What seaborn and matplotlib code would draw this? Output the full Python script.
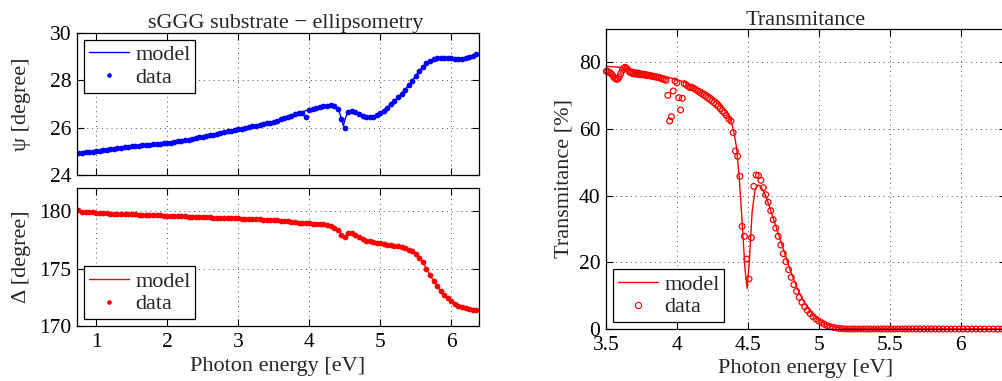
import numpy as np
import pandas as pd
import matplotlib
matplotlib.use("Agg")
import matplotlib.pyplot as plt
import seaborn as sns
from matplotlib.lines import Line2D

# ---------------------------------------------------------------- data
# Ellipsometry, measured on a 0.05 eV grid
ell_energy = np.round(np.arange(0.75, 6.351, 0.05), 2)
psi_data = [
    24.93, 24.95, 24.96, 24.97, 24.99, 25.00, 25.02, 25.04, 25.06, 25.08,
    25.10, 25.12, 25.15, 25.17, 25.19, 25.21, 25.22, 25.24, 25.25, 25.27,
    25.28, 25.30, 25.31, 25.32, 25.34, 25.35, 25.37, 25.40, 25.42, 25.44,
    25.47, 25.50, 25.53, 25.56, 25.59, 25.62, 25.65, 25.68, 25.71, 25.74,
    25.77, 25.80, 25.84, 25.87, 25.90, 25.93, 25.96, 25.99, 26.02, 26.05,
    26.08, 26.11, 26.14, 26.18, 26.21, 26.25, 26.30, 26.35, 26.40, 26.46,
    26.51, 26.56, 26.60, 26.64, 26.45, 26.76, 26.80, 26.84, 26.88, 26.90,
    26.92, 26.94, 26.92, 26.80, 26.38, 26.00, 26.66, 26.72, 26.66, 26.58,
    26.51, 26.45, 26.43, 26.46, 26.53, 26.62, 26.72, 26.85, 26.98, 27.13,
    27.28, 27.44, 27.61, 27.79, 27.99, 28.20, 28.40, 28.58, 28.73, 28.83,
    28.90, 28.94, 28.95, 28.95, 28.94, 28.93, 28.91, 28.90, 28.92, 28.95,
    28.99, 29.04, 29.10,
]
delta_data = [
    180.05, 179.95, 179.92, 179.90, 179.88, 179.86, 179.84, 179.82, 179.80, 179.77,
    179.78, 179.76, 179.75, 179.74, 179.72, 179.71, 179.70, 179.69, 179.67, 179.66,
    179.65, 179.64, 179.62, 179.61, 179.60, 179.59, 179.58, 179.57, 179.55, 179.54,
    179.53, 179.52, 179.50, 179.49, 179.48, 179.47, 179.46, 179.45, 179.43, 179.42,
    179.41, 179.40, 179.38, 179.37, 179.36, 179.35, 179.34, 179.33, 179.31, 179.30,
    179.28, 179.27, 179.25, 179.23, 179.22, 179.20, 179.18, 179.15, 179.12, 179.09,
    179.06, 179.03, 179.00, 178.97, 178.95, 178.93, 178.91, 178.89, 178.87, 178.84,
    178.78, 178.69, 178.55, 178.34, 177.95, 177.75, 178.05, 178.05, 177.91, 177.72,
    177.53, 177.43, 177.35, 177.28, 177.23, 177.18, 177.13, 177.08, 177.04, 176.98,
    176.92, 176.85, 176.78, 176.65, 176.48, 176.25, 175.95, 175.55, 175.00, 174.42,
    173.93, 173.46, 173.08, 172.70, 172.42, 172.18, 171.95, 171.78, 171.65, 171.55,
    171.47, 171.40, 171.35,
]

# Ellipsometry model
psi_model_energy = [0.75, 1.0, 1.5, 2.0, 2.5, 3.0, 3.5, 3.75, 4.0, 4.15, 4.3,
                    4.37, 4.42, 4.45, 4.48, 4.51, 4.55, 4.58, 4.68, 4.82, 4.91,
                    5.0, 5.14, 5.28, 5.40, 5.52, 5.61, 5.70, 5.80, 5.94, 6.08,
                    6.22, 6.38]
psi_model = [24.94, 25.00, 25.21, 25.35, 25.62, 25.93, 26.25, 26.51, 26.77,
             26.88, 26.94, 26.90, 26.69, 26.42, 26.07, 26.42, 26.69, 26.73,
             26.62, 26.44, 26.48, 26.62, 26.97, 27.38, 27.79, 28.28, 28.62,
             28.83, 28.94, 28.94, 28.90, 28.96, 29.12]
delta_model_energy = [0.75, 1.0, 2.0, 3.0, 3.5, 4.0, 4.16, 4.30, 4.40, 4.44,
                      4.48, 4.53, 4.57, 4.65, 4.75, 4.86, 5.0, 5.14, 5.33,
                      5.42, 5.52, 5.61, 5.70, 5.80, 5.89, 5.99, 6.08, 6.22,
                      6.38]
delta_model = [179.92, 179.85, 179.59, 179.36, 179.20, 178.93, 178.87, 178.69,
               178.34, 178.05, 177.75, 177.97, 178.10, 177.91, 177.53, 177.33,
               177.18, 177.04, 176.80, 176.60, 176.16, 175.44, 174.42, 173.46,
               172.74, 172.24, 171.80, 171.52, 171.36]

# Transmittance, measured every 1 nm from 354 nm down to 197 nm
wavelength_nm = np.arange(354, 196, -1)
trans_energy = 1239.84 / wavelength_nm
trans_data = [
    77.3, 77.3, 77.0, 76.8, 76.3, 75.7, 75.2, 74.9, 75.0, 75.6,
    76.6, 77.6, 78.3, 78.5, 78.2, 77.6, 77.0, 76.8, 76.6, 76.5,
    76.5, 76.4, 76.4, 76.3, 76.3, 76.2, 76.1, 76.0, 76.0, 75.9,
    75.8, 75.7, 75.6, 75.5, 75.4, 75.2, 75.0, 74.8, 74.6, 70.1,
    62.4, 63.7, 71.4, 74.4, 73.9, 69.4, 65.7, 69.2, 73.6, 73.3,
    72.8, 72.4, 72.5, 72.2, 71.8, 71.4, 71.0, 70.6, 70.2, 69.8,
    69.3, 68.9, 68.4, 67.9, 67.4, 66.8, 66.1, 65.4, 64.8, 64.0,
    63.0, 62.4, 58.9, 53.4, 51.8, 45.8, 30.8, 27.8, 21.0, 15.0,
    27.4, 42.8, 46.2, 46.0, 44.6, 42.4, 40.3, 38.0, 35.5, 32.8,
    30.3, 27.8, 25.2, 22.6, 20.2, 17.8, 15.5, 13.3, 11.3, 9.5,
    8.0, 6.7, 5.6, 4.6, 3.7, 3.0, 2.4, 1.9, 1.4, 1.0,
    0.7, 0.5, 0.3, 0.2, 0.1, 0.0, 0.0, 0.0, 0.0, 0.0,
    0.0, 0.0, 0.0, 0.0, 0.0, 0.0, 0.0, 0.0, 0.0, 0.0,
    0.0, 0.0, 0.0, 0.0, 0.0, 0.0, 0.0, 0.0, 0.0, 0.0,
    0.0, 0.0, 0.0, 0.0, 0.0, 0.0, 0.0, 0.0, 0.0, 0.0,
    0.0, 0.0, 0.0, 0.0, 0.0, 0.0, 0.0, 0.0,
]
trans_model_energy = [3.50, 3.60, 3.70, 3.80, 3.90, 4.00, 4.10, 4.20, 4.25,
                      4.30, 4.35, 4.38, 4.40, 4.42, 4.44, 4.46, 4.48, 4.495,
                      4.51, 4.53, 4.55, 4.57, 4.59, 4.62, 4.65, 4.70, 4.75,
                      4.80, 4.85, 4.90, 4.95, 5.00, 5.05, 5.10, 5.15, 5.20,
                      5.30, 6.30]
trans_model = [78.8, 78.5, 77.8, 77.0, 76.0, 74.8, 73.3, 71.2, 69.8, 68.0,
               65.3, 62.5, 59.5, 54.5, 45.0, 32.0, 18.0, 12.2, 20.0, 35.0,
               41.5, 43.2, 42.8, 40.5, 37.0, 30.5, 24.0, 17.5, 12.0, 7.8,
               4.8, 2.8, 1.5, 0.7, 0.3, 0.1, 0.0, 0.0]

psi_ticks = [24, 26, 28, 30]
delta_ticks = [170, 175, 180]
ell_xticks = [1, 2, 3, 4, 5, 6]
trans_yticks = [0, 20, 40, 60, 80]
trans_xticks = [3.5, 4, 4.5, 5, 5.5, 6]
trans_xticklabels = ["3.5", "4", "4.5", "5", "5.5", "6"]

# ---------------------------------------------------------------- style
sns.set_theme(style="ticks")
plt.rcParams["font.family"] = ["Liberation Serif", "DejaVu Serif"]
plt.rcParams["axes.unicode_minus"] = True

FS = 16
TICK_FS = 15.5
BLUE = (0, 0, 1)
RED = (1, 0, 0)

fig = plt.figure(figsize=(10.03, 3.81), dpi=100)
fig.patch.set_facecolor("white")

W, H = 1003.0, 381.0


def rect(left, top, right, bottom):
    return [left / W, 1 - bottom / H, (right - left) / W, (bottom - top) / H]


ax_psi = fig.add_axes(rect(77, 33, 479, 175))
ax_del = fig.add_axes(rect(77, 188, 479, 326))
ax_tr = fig.add_axes(rect(606, 29, 1006, 329))


def style_axis(ax):
    ax.set_facecolor("white")
    for sp in ax.spines.values():
        sp.set_visible(True)
        sp.set_color("black")
        sp.set_linewidth(0.9)
    ax.tick_params(direction="in", length=5, width=0.8, top=True, right=True,
                   labelsize=TICK_FS, colors="black")
    ax.tick_params(axis="y", pad=4)
    ax.tick_params(axis="x", pad=5)
    ax.grid(True, linestyle=(0, (1, 4)), color="0.3", linewidth=0.7)
    ax.set_axisbelow(True)


def make_legend(ax, color, marker, msize, mfill, loc):
    handles = [
        Line2D([], [], color=color, lw=1.0),
        Line2D([], [], color=color, lw=0, marker=marker, markersize=msize,
               markerfacecolor=mfill, markeredgecolor=color, markeredgewidth=0.8),
    ]
    leg = ax.legend(handles, ["model", "data"], loc=loc, fontsize=FS,
                    frameon=True, fancybox=False, framealpha=1,
                    edgecolor="black", handlelength=1.8, handletextpad=0.3,
                    labelspacing=0.1, borderpad=0.22, borderaxespad=0.3)
    leg.get_frame().set_linewidth(0.9)
    return leg


# ---------------------------------------------------------------- psi
psi_df = pd.DataFrame({"E": ell_energy, "psi": psi_data})
sns.lineplot(x=psi_model_energy, y=psi_model, ax=ax_psi, color=BLUE, lw=1.0,
             sort=False, estimator=None)
sns.scatterplot(data=psi_df, x="E", y="psi", ax=ax_psi, color=BLUE, s=17,
                linewidth=0, marker="o")
style_axis(ax_psi)
ax_psi.set_xlim(0.73, 6.39)
ax_psi.set_ylim(24, 30)
ax_psi.set_xticks(ell_xticks)
ax_psi.set_yticks(psi_ticks)
ax_psi.tick_params(labelbottom=False)
ax_psi.set_xlabel("")
ax_psi.set_ylabel("ψ [degree]", fontsize=FS)
ax_psi.yaxis.set_label_coords(-0.115, 0.5)
ax_psi.set_title("sGGG substrate − ellipsometry", fontsize=FS, pad=3, x=0.52)
make_legend(ax_psi, BLUE, ".", 5, BLUE, "upper left")

# ---------------------------------------------------------------- delta
del_df = pd.DataFrame({"E": ell_energy, "delta": delta_data})
sns.lineplot(x=delta_model_energy, y=delta_model, ax=ax_del, color=RED, lw=1.0,
             sort=False, estimator=None)
sns.scatterplot(data=del_df, x="E", y="delta", ax=ax_del, color=RED, s=17,
                linewidth=0, marker="o")
style_axis(ax_del)
ax_del.set_xlim(0.73, 6.39)
ax_del.set_ylim(170, 182)
ax_del.set_xticks(ell_xticks)
ax_del.set_yticks(delta_ticks)
ax_del.set_xlabel("Photon energy [eV]", fontsize=FS)
ax_del.xaxis.set_label_coords(0.5, -0.222)
ax_del.set_ylabel("Δ [degree]", fontsize=FS)
ax_del.yaxis.set_label_coords(-0.115, 0.5)
make_legend(ax_del, RED, ".", 5, RED, "lower left")

# ---------------------------------------------------------------- transmittance
tr_df = pd.DataFrame({"E": trans_energy, "T": trans_data})
sns.lineplot(x=trans_model_energy, y=trans_model, ax=ax_tr, color=RED, lw=1.0,
             sort=False, estimator=None)
sns.scatterplot(data=tr_df, x="E", y="T", ax=ax_tr, marker="o", s=17,
                facecolors="none", edgecolor=RED, linewidth=0.9, clip_on=False)
style_axis(ax_tr)
ax_tr.spines["right"].set_visible(False)
ax_tr.set_xlim(3.5, 6.32)
ax_tr.set_ylim(0, 90)
ax_tr.set_xticks(trans_xticks)
ax_tr.set_xticklabels(trans_xticklabels)
ax_tr.set_yticks(trans_yticks)
ax_tr.set_xlabel("Photon energy [eV]", fontsize=FS)
ax_tr.xaxis.set_label_coords(0.5, -0.1)
ax_tr.set_ylabel("Transmitance [%]", fontsize=FS)
ax_tr.yaxis.set_label_coords(-0.08, 0.5)
ax_tr.set_title("Transmitance", fontsize=FS, pad=3)
make_legend(ax_tr, RED, "o", 4.5, "none", "lower left")

fig.savefig("out.png", dpi=100, facecolor="white")
